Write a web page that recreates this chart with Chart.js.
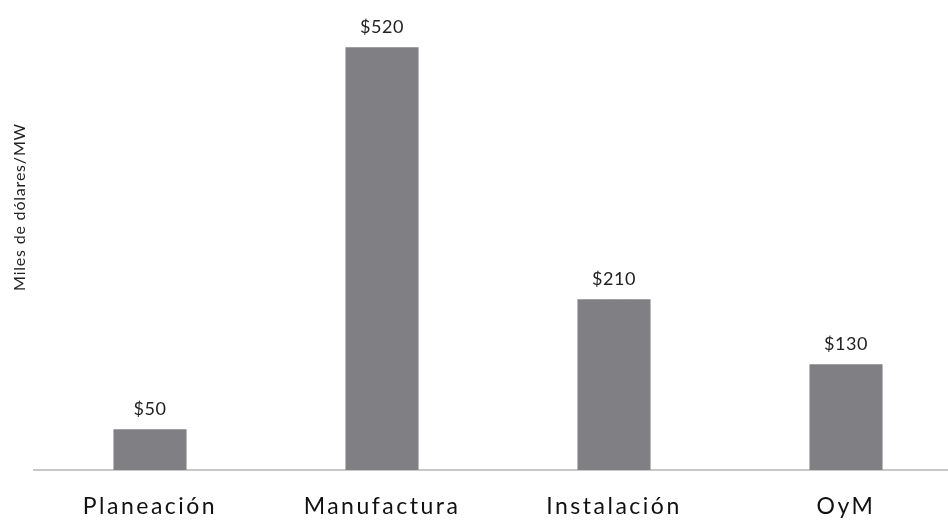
<!DOCTYPE html>
<html>
<head>
<meta charset="utf-8">
<script src="https://cdn.jsdelivr.net/npm/chart.js@4/dist/chart.umd.min.js"></script>
<style>
  html, body { margin: 0; padding: 0; background: #fff; overflow: hidden; }
  #wrap { width: 962px; height: 527px; }
</style>
</head>
<body>
<div id="wrap"><canvas id="costChart"></canvas></div>
<script>
var categories = ['Planeación', 'Manufactura', 'Instalación', 'OyM'];
var costValues = [50, 520, 210, 130];
var valueLabels = ['$50', '$520', '$210', '$130'];
var axisTitle = 'Miles de dólares/MW';

document.addEventListener('DOMContentLoaded', (event) => {
    var ctx = document.getElementById('costChart').getContext('2d');

    // wide tracking only on the category labels
    var trackingPlugin = {
        id: 'tracking',
        afterLayout: (chart) => {
            var xs = chart.scales.x;
            if (xs._tracked) return;
            var orig = xs.drawLabels;
            xs.drawLabels = function (area) {
                this.ctx.save();
                this.ctx.letterSpacing = '2.5px';
                orig.call(this, area);
                this.ctx.restore();
            };
            xs._tracked = true;
        }
    };

    // dollar labels above bars + rotated axis title
    var valueLabelPlugin = {
        id: 'valueLabels',
        afterDatasetsDraw: (chart) => {
            var c = chart.ctx;
            var meta = chart.getDatasetMeta(0);
            c.save();
            c.letterSpacing = '0.5px';
            c.font = '18px Lato';
            c.fillStyle = '#222';
            c.textAlign = 'center';
            c.textBaseline = 'alphabetic';
            meta.data.forEach((bar, i) => {
                c.fillText(valueLabels[i], bar.x, bar.y - 14);
            });
            c.restore();

            c.save();
            c.translate(20, 207);
            c.rotate(-Math.PI / 2);
            c.letterSpacing = '0.8px';
            c.font = '16px Lato';
            c.fillStyle = '#222';
            c.textAlign = 'center';
            c.textBaseline = 'middle';
            c.fillText(axisTitle, 0, 0);
            c.restore();
        }
    };

    new Chart(ctx, {
        type: 'bar',
        data: {
            labels: categories,
            datasets: [{
                data: costValues,
                backgroundColor: '#808084',
                categoryPercentage: 1,
                barPercentage: 0.315
            }]
        },
        options: {
            responsive: true,
            maintainAspectRatio: false,
            animation: false,
            layout: { padding: 0 },
            plugins: {
                legend: { display: false },
                tooltip: { enabled: false }
            },
            scales: {
                x: {
                    grid: { display: false, drawTicks: false },
                    border: { display: true, color: '#c8c8c8', width: 2 },
                    ticks: {
                        color: '#111',
                        padding: 23,
                        maxRotation: 0,
                        font: { family: 'Lato', size: 23 }
                    },
                    afterFit: (scale) => { scale.height = 57; }
                },
                y: {
                    min: 0,
                    max: 578,
                    grid: { display: false },
                    border: { display: false },
                    ticks: { display: false },
                    afterFit: (scale) => { scale.width = 34; }
                }
            }
        },
        plugins: [trackingPlugin, valueLabelPlugin]
    });
});
</script>
</body>
</html>
